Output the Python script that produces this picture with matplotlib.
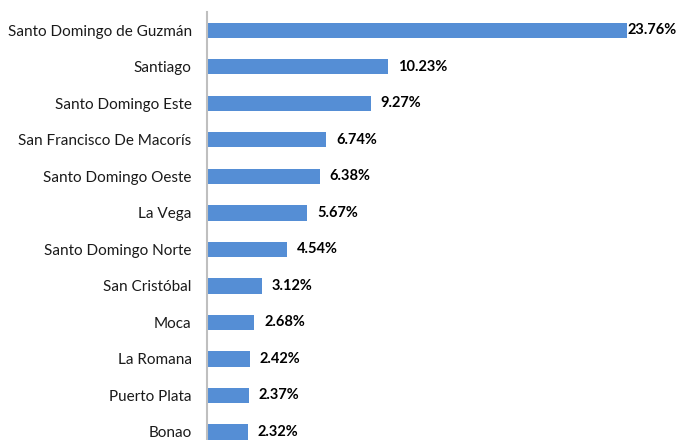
import matplotlib
matplotlib.use("Agg")
import matplotlib.pyplot as plt

# municipios y porcentaje
municipios = ["Santo Domingo de Guzmán", "Santiago", "Santo Domingo Este",
              "San Francisco De Macorís", "Santo Domingo Oeste", "La Vega",
              "Santo Domingo Norte", "San Cristóbal", "Moca", "La Romana",
              "Puerto Plata", "Bonao"]
porcentajes = [23.76, 10.23, 9.27, 6.74, 6.38, 5.67, 4.54, 3.12, 2.68, 2.42, 2.37, 2.32]

plt.rcParams['font.family'] = ['Lato', 'DejaVu Sans']

fig = plt.figure(figsize=(6.77, 4.4), dpi=100)
ax = fig.add_axes([207 / 677, 0, 442 / 677, 1 - 12 / 440])

pos = list(range(len(municipios)))
ax.barh(pos, porcentajes, height=0.42, color="#558ED5")
ax.set_ylim(len(municipios) - 0.78, -0.5)
ax.set_xlim(0, 25)

ax.set_yticks(pos)
ax.set_yticklabels(municipios, fontsize=11, color="#1a1a1a")
ax.tick_params(axis='y', length=0, pad=11)
ax.set_xticks([])

for s in ["top", "right", "bottom"]:
    ax.spines[s].set_visible(False)
ax.spines["left"].set_color("#BFBFBF")
ax.spines["left"].set_linewidth(1.5)

maximo = max(porcentajes)
for y, v in zip(pos, porcentajes):
    desp = 0 if v == maximo else 0.55
    ax.text(v + desp, y, f"{v:.2f}%", va="center", ha="left",
            fontsize=10.5, fontweight="bold", color="black")

fig.savefig("out.png", dpi=100)
